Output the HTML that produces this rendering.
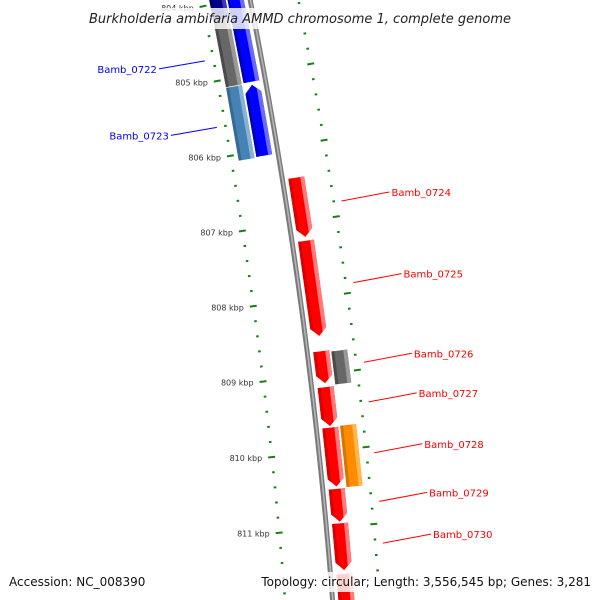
<!DOCTYPE html>
<html><head><meta charset="utf-8"><style>
html,body{margin:0;padding:0;background:#fff;width:600px;height:600px;overflow:hidden;}
svg{display:block;overflow:hidden;font-family:"DejaVu Sans","Liberation Sans",sans-serif;}
</style></head><body>
<svg id="map" width="600" height="600" viewBox="0 0 600 600" xmlns="http://www.w3.org/2000/svg">
<g id="ticks"></g>
<g id="backbone"></g>
<g id="genes"></g>
<g id="labels"></g>
<rect x="70" y="8" width="460" height="21" fill="#fff" opacity="0.82"/>
<text x="300" y="23" text-anchor="middle" font-size="13" font-style="italic" fill="#222">Burkholderia ambifaria AMMD chromosome 1, complete genome</text>
<rect x="4" y="572" width="146" height="20" fill="#fff" opacity="0.82"/>
<rect x="256" y="572" width="340" height="20" fill="#fff" opacity="0.82"/>
<text x="9" y="586" font-size="12" fill="#111">Accession: NC_008390</text>
<text x="591" y="586" font-size="12" text-anchor="end" fill="#111">Topology: circular; Length: 3,556,545 bp; Genes: 3,281</text>
</svg>
<script>
const majorTicks = [804, 805, 806, 807, 808, 809, 810, 811];
const majorTickLabels = ["804 kbp", "805 kbp", "806 kbp", "807 kbp", "808 kbp", "809 kbp", "810 kbp", "811 kbp"];
const geneNames = ["", "", "Bamb_0722", "Bamb_0723", "", "Bamb_0724", "Bamb_0725", "Bamb_0726", "", "Bamb_0727", "Bamb_0728", "", "Bamb_0729", "Bamb_0730", ""];
const geneStart = [803.0, 804.22, 803.5, 805.13, 805.11, 806.42, 807.25, 808.70, 808.72, 809.17, 809.70, 809.69, 810.50, 810.95, 811.61];
const geneEnd   = [804.22, 805.10, 805.09, 806.07, 806.08, 807.20, 808.50, 809.12, 809.15, 809.68, 810.47, 810.49, 810.93, 811.56, 812.60];
const geneStrand = [-1, -1, -1, -1, -1, 1, 1, 1, 1, 1, 1, 1, 1, 1, 1];
const geneLane = [2, 2, 1, 1, 2, 1, 1, 1, 2, 1, 1, 2, 1, 1, 1];
const geneKind = ["navy", "gray", "blue", "blue", "steel", "red", "red", "red", "gray", "red", "red", "orange", "red", "red", "red"];

const NS = "http://www.w3.org/2000/svg";
const CX = -4802, CY = 999, R = 5150, A0 = -0.1362, DA = 0.0149, VIS0 = 804.33;
const palette = {
  red: ["#ff0000", "#d80000", "#ff7a7a"], blue: ["#0000ff", "#0000b8", "#6a6aff"],
  gray: ["#676767", "#4a4a4a", "#9a9a9a"], steel: ["#4682b4", "#356a96", "#86b2d8"],
  orange: ["#ff8c00", "#d87400", "#ffb64a"], navy: ["#00008b", "#000066", "#3a3ab0"]
};
const arrowKinds = {red: true, blue: true};
function ang(k) { return A0 + (k - 808) * DA; }
function pt(k, r) { const a = ang(k); return [CX + r * Math.cos(a), CY + r * Math.sin(a)]; }
function mk(tag, parent, attrs) { const e = document.createElementNS(NS, tag); for (const k in attrs) e.setAttribute(k, attrs[k]); parent.appendChild(e); return e; }
function fmt(p) { return p[0].toFixed(2) + "," + p[1].toFixed(2); }

const tg = document.getElementById("ticks");
for (let i = 0; i <= 44; i++) {
  const k = 803.6 + i * 0.2;
  const isMajor = Math.abs(k - Math.round(k)) < 0.01;
  for (const side of [-1, 1]) {
    const r1 = R + side * (isMajor ? 44 : 46), r2 = R + side * (isMajor ? 51 : 48.6);
    const a = pt(k, r1), b = pt(k, r2);
    const ln = mk("line", tg, {x1: a[0], y1: a[1], x2: b[0], y2: b[1], stroke: "#1a7f1a", "stroke-width": 2});
    
    
  }
}
majorTicks.forEach((k, i) => {
  const p = pt(k, R - 57);
  const t = mk("text", tg, {x: p[0], y: p[1] + 3, "text-anchor": "end", "font-size": 8, fill: "#333"});
  t.textContent = majorTickLabels[i];
  
  
});

const bg = document.getElementById("backbone");
function arcPts(r) { const a = []; for (let k = 803.5; k <= 812.0; k += 0.05) a.push(fmt(pt(k, r))); return a.join(" "); }
const b1 = mk("polyline", bg, {points: arcPts(R), fill: "none", stroke: "#7a7a7a", "stroke-width": 5});


const b2 = mk("polyline", bg, {points: arcPts(R + 0.3), fill: "none", stroke: "#b4b4b4", "stroke-width": 1.6});



const gg = document.getElementById("genes");
const H = 8 / (R * DA);
function shape(i, r1, r2, ra, rb) {
  const s = geneStart[i], e = geneEnd[i], mid = (r1 + r2) / 2, half = (r2 - r1) / 2;
  const arrow = arrowKinds[geneKind[i]];
  const h = Math.min(H, (e - s) * 0.5);
  const endK = r => (arrow && geneStrand[i] > 0) ? e - h * Math.abs(r - mid) / half : e;
  const startK = r => (arrow && geneStrand[i] < 0) ? s + h * Math.abs(r - mid) / half : s;
  const rs = [ra]; if (ra < mid && mid < rb) rs.push(mid); rs.push(rb);
  const out = [];
  rs.forEach(r => out.push(fmt(pt(endK(r), r))));
  rs.slice().reverse().forEach(r => out.push(fmt(pt(startK(r), r))));
  return out.join(" ");
}
const lblg = document.getElementById("labels");
geneStart.forEach((s, i) => {
  const side = geneStrand[i];
  const inner = geneLane[i] === 1 ? 6 : 24, outer = inner + 16;
  const r1 = side > 0 ? R + inner : R - outer, r2 = side > 0 ? R + outer : R - inner;
  const col = palette[geneKind[i]];
  const g = mk("g", gg, {});
  
  
  mk("polygon", g, {points: shape(i, r1, r2, r1, r2), fill: col[0]});
  mk("polygon", g, {points: shape(i, r1, r2, r1, r1 + 3), fill: col[1]});
  mk("polygon", g, {points: shape(i, r1, r2, r2 - 4, r2), fill: col[2]});
  if (geneNames[i]) {
    const m = (Math.max(s, VIS0) + geneEnd[i]) / 2;
    const color = side > 0 ? "#ff0000" : "#0000ff";
    const p = pt(m, side > 0 ? R + 55 : R - 56);
    const q = side > 0 ? [p[0] + 48, p[1] - 9] : [p[0] - 46, p[1] + 8];
    const ln = mk("line", lblg, {x1: p[0], y1: p[1], x2: q[0], y2: q[1], stroke: color, "stroke-width": 1});
    
    
    const t = mk("text", lblg, {x: side > 0 ? q[0] + 2 : q[0] - 2, y: q[1] + 4, "font-size": 10, fill: color, "text-anchor": side > 0 ? "start" : "end"});
    t.textContent = geneNames[i];
    
    
  }
});
</script>
</body></html>
